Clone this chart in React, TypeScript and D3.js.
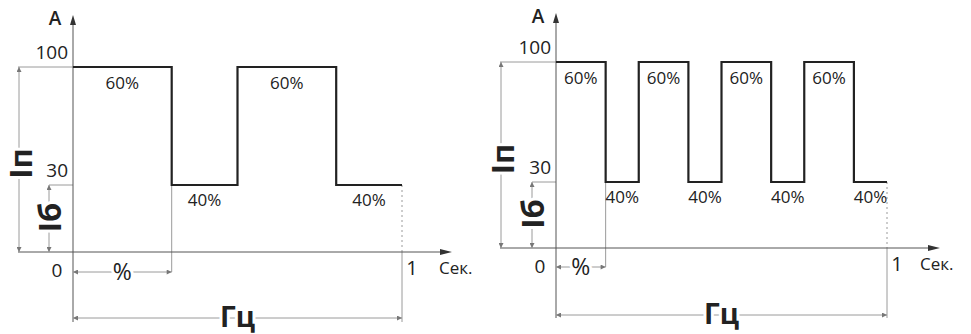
import React from 'react';
import * as d3 from 'd3';

// amplitude levels (A): base, pulse
const levelTicks = [0, 30, 100];
const levelLabels = ['0', '30', '100'];

// pulse train, time (s) of each step and the current after it
const leftTimes = [0, 0.3, 0.5, 0.8, 1];
const leftAmps = [100, 30, 100, 30, 30];
const rightTimes = [0, 0.15, 0.25, 0.4, 0.5, 0.65, 0.75, 0.9, 1];
const rightAmps = [100, 30, 100, 30, 100, 30, 100, 30, 30];

const dutyHigh = '60%';
const dutyLow = '40%';

const panels = [
    {id: 'l', times: leftTimes, amps: leftAmps, x0: 73, x1: 402, yTop: 67, yLow: 185, yBase: 252,
        axisTop: 15, axisBottom: 322, axisLeft: 18, axisRight: 452, ipX: 19, ibX: 49, pctY: 272, hzY: 318, secDx: 37},
    {id: 'r', times: rightTimes, amps: rightAmps, x0: 556, x1: 887, yTop: 62, yLow: 182, yBase: 248,
        axisTop: 13, axisBottom: 318, axisLeft: 500, axisRight: 940, ipX: 501, ibX: 532, pctY: 267, hzY: 315, secDx: 33}
];

const font = '"Open Sans", "DejaVu Sans", sans-serif';
const ink = '#222';
const thin = '#9a9a9a';

function Panel({p}) {
    const x = d3.scaleLinear().domain([0, 1]).range([p.x0, p.x1]);
    const y = d3.scaleLinear().domain(levelTicks).range([p.yBase, p.yLow, p.yTop]);
    const pts = p.times.map((t, i) => [t, p.amps[i]]);
    const line = d3.line().x(d => x(d[0])).y(d => y(d[1])).curve(d3.curveStepAfter);

    const segs = pts.slice(0, -1).map((d, i) => ({mid: (d[0] + pts[i + 1][0]) / 2, a: d[1]}));
    const firstFall = p.times[1];
    const halo = {paintOrder: 'stroke', stroke: '#fff', strokeWidth: 6} as any;

    return (
        <g fontFamily={font} fill={ink}>
            {/* reference lines at levels */}
            <line x1={p.axisLeft} x2={x(0)} y1={y(100)} y2={y(100)} stroke={thin} />
            <line x1={p.ibX} x2={x(0)} y1={y(30)} y2={y(30)} stroke={thin} />
            {/* extension lines */}
            <line x1={x(firstFall)} x2={x(firstFall)} y1={y(30)} y2={p.pctY} stroke={thin} />
            <line x1={x(1)} x2={x(1)} y1={y(30)} y2={y(0)} stroke={thin} strokeDasharray="2,3" />
            <line x1={x(1)} x2={x(1)} y1={y(0)} y2={p.axisBottom} stroke={thin} />

            {/* axes */}
            <line x1={x(0)} x2={x(0)} y1={p.axisBottom} y2={p.axisTop + 6} stroke="#555" />
            <path d={`M${x(0)},${p.axisTop} l-3,10 l6,0 z`} fill="#333" />
            <line x1={p.axisLeft} x2={p.axisRight - 6} y1={y(0)} y2={y(0)} stroke="#555" />
            <path d={`M${p.axisRight},${y(0)} l-12,-3 l0,6 z`} fill="#333" />

            {/* signal */}
            <path d={line(pts)} fill="none" stroke={ink} strokeWidth={2.2} />

            {segs.map((s, i) => (
                <text key={i} x={x(s.mid)} y={s.a === 100 ? y(100) + 22 : y(30) + 21}
                      textAnchor="middle" fontSize={17}>{s.a === 100 ? dutyHigh : dutyLow}</text>
            ))}

            {/* tick labels */}
            <text x={x(0) - 5} y={y(100) - 8} textAnchor="end" fontSize={19}>{levelLabels[2]}</text>
            <text x={x(0) - 5} y={y(30) - 8} textAnchor="end" fontSize={19}>{levelLabels[1]}</text>
            <text x={x(0) - 16} y={y(0) + 25} textAnchor="middle" fontSize={19}>{levelLabels[0]}</text>
            <text x={x(1) + 10} y={y(0) + 23} textAnchor="middle" fontSize={20}>1</text>
            <text x={x(1) + p.secDx} y={y(0) + 22} fontSize={17}>Сек.</text>
            <text x={x(0) - 18} y={p.axisTop + 10} textAnchor="middle" fontSize={19} fontWeight="600">А</text>

            {/* dimension lines */}
            <line x1={p.ipX} x2={p.ipX} y1={y(100)} y2={y(0)} stroke={thin} markerStart="url(#ar)" markerEnd="url(#ar)" />
            <line x1={p.ibX} x2={p.ibX} y1={y(30)} y2={y(0)} stroke={thin} markerStart="url(#ar)" markerEnd="url(#ar)" />
            <line x1={x(0)} x2={x(firstFall)} y1={p.pctY} y2={p.pctY} stroke={thin} markerStart="url(#ar)" markerEnd="url(#ar)" />
            <line x1={x(0)} x2={x(1)} y1={p.hzY} y2={p.hzY} stroke={thin} markerStart="url(#ar)" markerEnd="url(#ar)" />

            <text transform={`translate(${p.ipX + 13},${(y(100) + y(0)) / 2 + 4}) rotate(-90)`} textAnchor="middle"
                  fontSize={31} fontWeight="bold" style={halo}>Iп</text>
            <text transform={`translate(${p.ibX + 12},${(y(30) + y(0)) / 2 - 1}) rotate(-90)`} textAnchor="middle"
                  fontSize={31} fontWeight="bold" style={halo}>Iб</text>
            <text x={(x(0) + x(firstFall)) / 2} y={p.pctY + 8} textAnchor="middle" fontSize={23} style={halo}>%</text>
            <text x={x(0.5)} y={p.hzY + 9} textAnchor="middle" fontSize={28} fontWeight="bold" style={halo}>Гц</text>
        </g>
    );
}

export default function App() {
    return (
        <svg width={971} height={334} style={{position: 'absolute', left: 0, top: 0, background: '#fff'}}>
            <defs>
                <marker id="ar" viewBox="0 0 10 10" refX="10" refY="5" markerWidth="7" markerHeight="5"
                        orient="auto-start-reverse" markerUnits="userSpaceOnUse">
                    <path d="M0,0 L10,5 L0,10 z" fill="#777" />
                </marker>
            </defs>
            {panels.map(p => <Panel key={p.id} p={p} />)}
        </svg>
    );
}
